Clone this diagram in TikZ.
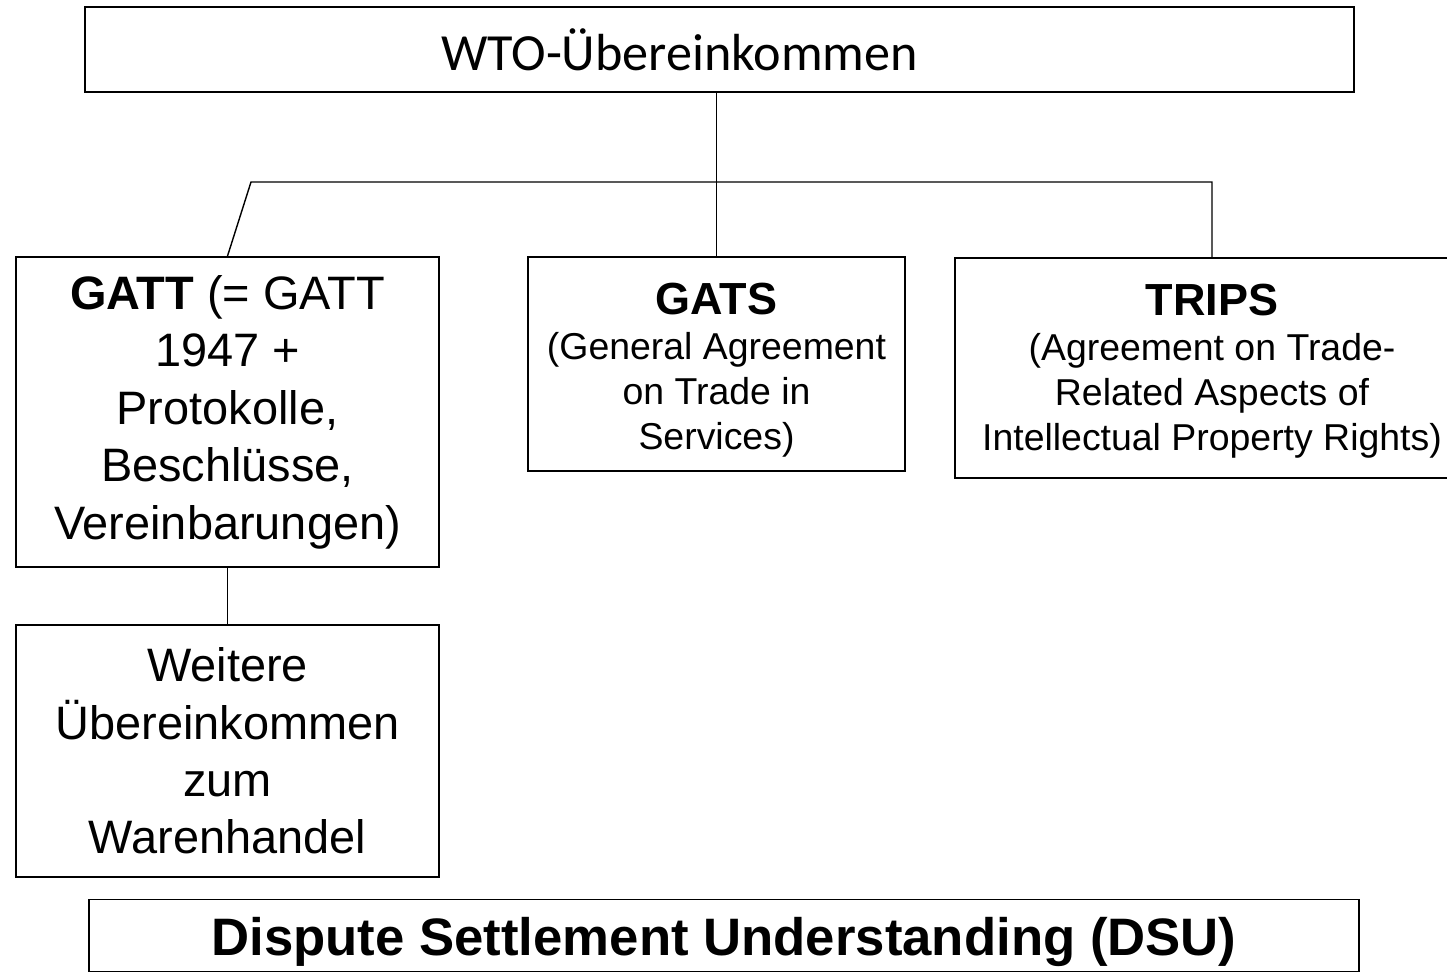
\documentclass[tikz,border=0pt]{standalone}
\usepackage{fontspec}
\setmainfont{Liberation Sans}
\newfontfamily\lightfont{Carlito}
\usepackage{tikz}
\usetikzlibrary{calc}

\tikzset{
  kasten/.style={draw, line width=1.1pt, rectangle, inner sep=0pt},
  linie/.style={line width=0.8pt}
}

\begin{document}
\begin{tikzpicture}[x=0.02cm, y=-0.02cm]

            \clip (0,0) rectangle (1447,973); % Bildausschnitt

            % Oberer Kasten
            \node[kasten, minimum width=25.38cm, minimum height=1.7cm, font=\lightfont\fontsize{29.7}{36}\selectfont] (wto) at (719.5,49.5) {WTO-Übereinkommen\hspace*{1.6cm}};

            % Die drei Übereinkommen
            \node[kasten, align=center, minimum width=8.46cm, minimum height=6.2cm, font=\fontsize{26.7}{32.7}\selectfont] (gatt) at (227.5,412) {\textbf{GATT} (= GATT\\ 1947 +\\ Protokolle,\\ Beschlüsse,\\ Vereinbarungen)};
            \node[kasten, align=center, minimum width=7.54cm, minimum height=4.28cm, font=\fontsize{21.3}{25.6}\selectfont] (gats) at (716.5,364) {\rule{0pt}{25pt}{\bfseries\fontsize{25.6}{30}\selectfont GATS}\\ (General Agreement\\ on Trade in\\ Services)};
            \node[kasten, align=center, minimum width=10.28cm, minimum height=4.4cm, font=\fontsize{21.3}{25.6}\selectfont] (trips) at (1212,368) {\rule{0pt}{21pt}{\bfseries\fontsize{25.6}{30}\selectfont TRIPS}\\ (Agreement on Trade-\\ Related Aspects of\\ Intellectual Property Rights)};

            % Warenhandel und DSU
            \node[kasten, align=center, minimum width=8.46cm, minimum height=5.04cm, font=\fontsize{26.7}{32.7}\selectfont] (weitere) at (227.5,751) {Weitere\\ Übereinkommen\\ zum\\ Warenhandel};
            \node[kasten, minimum width=25.4cm, minimum height=1.44cm, font=\bfseries\fontsize{30}{36}\selectfont] (dsu) at (724,935.5) {\rule{0pt}{29pt}Dispute Settlement Understanding (DSU)};

            % Verbindungslinien
            \coordinate (lknick) at (251,182); % Knick links
            \coordinate (rknick) at (1212,182); % Knick rechts
            \draw[linie] (gats.north |- wto.south) -- (gats.north);
            \draw[linie] (gatt.north) -- (lknick) -- (rknick) -- (trips.north);
            \draw[linie] (gatt.south) -- (weitere.north);

\end{tikzpicture}
\end{document}
